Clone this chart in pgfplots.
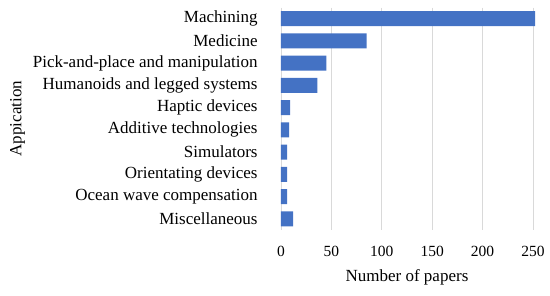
\documentclass[border=0pt]{standalone}
\usepackage{pgfplots}
\pgfplotsset{compat=1.18}
\usepackage{fontspec}
\setmainfont{Liberation Serif}
\definecolor{barblue}{RGB}{68,114,196}
\definecolor{gridgray}{RGB}{217,217,217}
\begin{document}
\begin{tikzpicture}
\begin{axis}[
  scale only axis,
  width=252bp, height=222.5bp,
  at={(0,0)}, anchor=south west,
  xbar, bar width=15bp,
  xmin=0, xmax=250,
  ymin=-0.5, ymax=9.5, y dir=reverse,
  ytick={0,1,2,3,4,5,6,7,8,9},
  yticklabels={Machining, Medicine, Pick-and-place and manipulation, Humanoids and legged systems, Haptic devices, Additive technologies, Simulators, Orientating devices, Ocean wave compensation, Miscellaneous},
  xtick={0,50,100,150,200,250},
  axis lines*=left,
  axis line style={draw=none},
  tick style={draw=none},
  xmajorgrids, major grid style={gridgray, line width=0.9bp},
  clip=false,
  /pgf/number format/assume math mode=true,
  ticklabel style={inner sep=0pt},
  yticklabel style={anchor=east, font=\fontsize{17bp}{20bp}\selectfont},
  yticklabel shift=19bp,
  xticklabel style={anchor=north, font=\fontsize{15.5bp}{19bp}\selectfont},
  xticklabel shift=16bp,
  xlabel={Number of papers},
  xlabel style={font=\fontsize{17bp}{20bp}\selectfont, at={(axis description cs:0.5,0)}, anchor=base, yshift=-51.7bp, inner sep=0pt},
  ylabel={Appication},
  ylabel style={font=\fontsize{17bp}{20bp}\selectfont, at={(axis description cs:-1.030,0.5)}, anchor=base, rotate=0, inner sep=0pt},
]
\addplot[fill=barblue, draw=none] coordinates {
(252,0) (85,1) (45,2) (36,3) (9,4) (8,5) (6,6) (6,7) (6,8) (12,9)
};
\end{axis}
\pgfresetboundingbox
\useasboundingbox (-281bp,-66bp) rectangle (269bp,230bp);
\end{tikzpicture}
\end{document}
